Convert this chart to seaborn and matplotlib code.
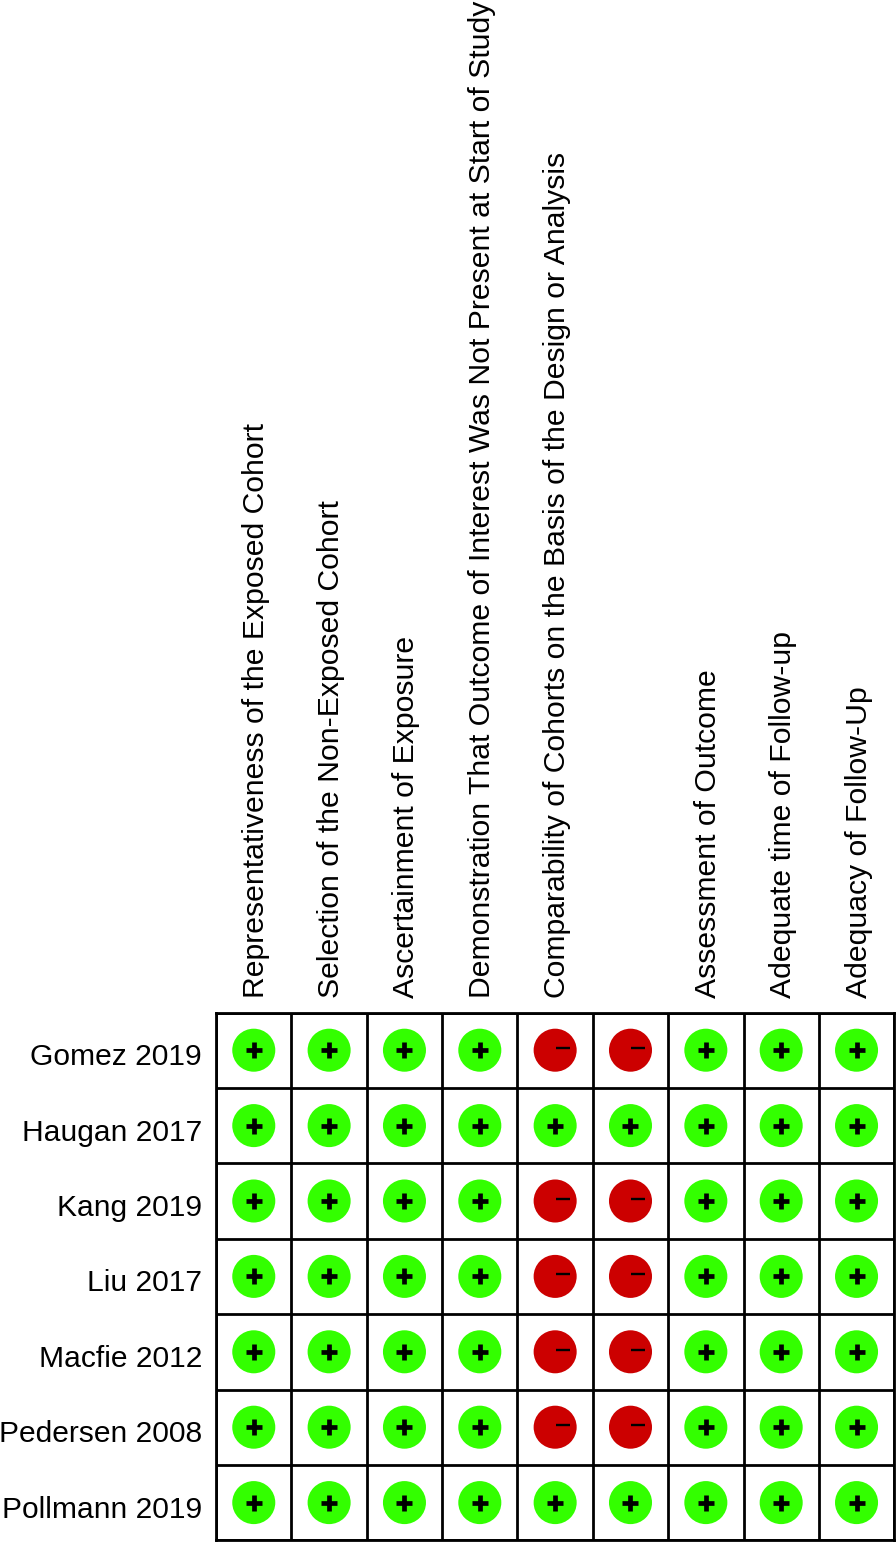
#!/usr/bin/env python

"""
Risk of bias summary, one row per study
"""

import numpy as np
import pandas as pd
import matplotlib
matplotlib.use("Agg")
import matplotlib.pyplot as plt
from matplotlib.transforms import ScaledTranslation
import seaborn as sns

sns.set_theme(style="white")
plt.rcParams['font.family'] = ['Liberation Sans', 'DejaVu Sans']

studies = ["Gomez 2019", "Haugan 2017", "Kang 2019", "Liu 2017",
           "Macfie 2012", "Pedersen 2008", "Pollmann 2019"]

domains = ["Representativeness of the Exposed Cohort",
           "Selection of the Non-Exposed Cohort",
           "Ascertainment of Exposure",
           "Demonstration That Outcome of Interest Was Not Present at Start of Study",
           "Comparability of Cohorts on the Basis of the Design or Analysis",
           "",
           "Assessment of Outcome",
           "Adequate time of Follow-up",
           "Adequacy of Follow-Up"]

# one string per study, one sign per domain
ratings = ["++++--+++",
           "+++++++++",
           "++++--+++",
           "++++--+++",
           "++++--+++",
           "++++--+++",
           "+++++++++"]

GREEN = "#33FF00"
RED = "#CC0000"

rows = []
for i, study in enumerate(studies):
    for j, sign in enumerate(ratings[i]):
        rows.append({"study": study, "col": j, "row": i, "sign": sign})
df = pd.DataFrame(rows)

fig = plt.figure(figsize=(8.96, 15.42), dpi=100)
ax = fig.add_axes([216.1 / 896, 1 - 1540.3 / 1542, (894.2 - 216.1) / 896, (1540.3 - 1012.5) / 1542])

sns.scatterplot(data=df, x="col", y="row", hue="sign", palette={"+": GREEN, "-": RED},
                s=960, linewidth=0, legend=False, ax=ax, zorder=3)

# the signs sit on top of the circles, minus is pushed to the right and up
plus = df[df.sign == "+"]
minus = df[df.sign == "-"]
sns.scatterplot(data=plus, x="col", y="row", marker="+", color="black", s=135,
                linewidth=3.4, legend=False, ax=ax, zorder=4)
sns.scatterplot(data=minus, x="col", y="row", marker="_", color="black", s=100,
                linewidth=1.7, legend=False, ax=ax, zorder=4,
                transform=ax.transData + ScaledTranslation(7.5 / 100, 2.3 / 100, fig.dpi_scale_trans))

ax.set_xlim(-0.5, len(domains) - 0.5)
ax.set_ylim(len(studies) - 0.5, -0.5)

ax.set_xticks(np.arange(len(domains)))
ax.set_xticklabels(domains, rotation=90, ha="center", va="bottom", fontsize=21.7, color="black")
ax.set_yticks(np.arange(len(studies)))
ax.set_yticklabels(studies, fontsize=21.6, color="black")
ax.xaxis.tick_top()
ax.tick_params(axis="both", which="major", length=0)
ax.tick_params(axis="x", pad=10.5)
ax.tick_params(axis="y", pad=10.2)
ax.set_xlabel("")
ax.set_ylabel("")

# small nudges so the labels land where they do in the figure
for lab in ax.get_xticklabels():
    lab.set_transform(lab.get_transform() + ScaledTranslation(2 / 100, 0, fig.dpi_scale_trans))
for lab in ax.get_yticklabels():
    lab.set_transform(lab.get_transform() + ScaledTranslation(0, -4 / 100, fig.dpi_scale_trans))

ax.set_xticks(np.arange(-0.5, len(domains)), minor=True)
ax.set_yticks(np.arange(-0.5, len(studies)), minor=True)
ax.tick_params(axis="both", which="minor", length=0)
ax.grid(which="minor", color="black", linewidth=2.0)
ax.grid(which="major", visible=False)
ax.set_axisbelow(True)
for spine in ax.spines.values():
    spine.set_color("black")
    spine.set_linewidth(2.0)

plt.savefig("out.png", dpi=100)
